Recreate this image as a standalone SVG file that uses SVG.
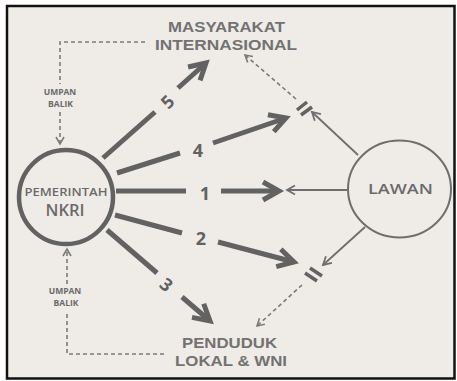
<svg xmlns="http://www.w3.org/2000/svg" width="457" height="381" viewBox="0 0 457 381">
  <style>
    .frame { fill: #efece7; stroke: #111; stroke-width: 2.5; }
    .thick { fill: none; stroke: #626262; stroke-width: 5; stroke-linecap: butt; }
    .thin { fill: none; stroke: #6e6e6e; stroke-width: 1.8; }
    .dash { fill: none; stroke: #7a7a7a; stroke-width: 1.6; stroke-dasharray: 4 3; }
    .brk { fill: none; stroke: #626262; stroke-width: 3.5; }
    .lbl { font-family: "Open Sans", "Liberation Sans", sans-serif; font-weight: 600; fill: #6a6a6a; text-anchor: middle; }
    .big { font-family: "Liberation Sans", Arial, sans-serif; font-weight: 700; fill: #727272; text-anchor: middle; font-size: 15.5px; }
    .num { font-family: "Open Sans", "Liberation Sans", sans-serif; font-weight: 700; fill: #626262; text-anchor: middle; font-size: 18px; }
    .small { font-family: "Open Sans", "Liberation Sans", sans-serif; font-weight: 700; fill: #6a6a6a; text-anchor: middle; font-size: 8.5px; }
  </style>
  <defs>
    <marker id="mThick" viewBox="-22 -14 30 28" markerWidth="30" markerHeight="28" refX="0" refY="0" orient="auto" markerUnits="userSpaceOnUse" overflow="visible">
      <path d="M-16,-9 L0,0 L-16,9" fill="none" stroke="#626262" stroke-width="5" stroke-linejoin="miter"/>
    </marker>
    <marker id="mThin" viewBox="-12 -8 16 16" markerWidth="16" markerHeight="16" refX="0" refY="0" orient="auto" markerUnits="userSpaceOnUse" overflow="visible">
      <path d="M-8,-4.5 L0,0 L-8,4.5" fill="none" stroke="#6e6e6e" stroke-width="1.8"/>
    </marker>
    <marker id="mDash" viewBox="-12 -8 16 16" markerWidth="16" markerHeight="16" refX="0" refY="0" orient="auto" markerUnits="userSpaceOnUse" overflow="visible">
      <path d="M-7,-4 L0,0 L-7,4" fill="none" stroke="#7a7a7a" stroke-width="1.6"/>
    </marker>
  </defs>

  <rect x="0" y="0" width="457" height="381" fill="#ffffff"/>
  <rect class="frame" x="7" y="6" width="447.5" height="372.5"/>

  <g id="connectors">
    <!-- line 5 -->
    <path class="thick" d="M103,158 L155,112"/>
    <path class="thick" d="M178,88 L206,63" marker-end="url(#mThick)"/>
    <!-- line 4 -->
    <path class="thick" d="M117,173 L180,153"/>
    <path class="thick" d="M213,143 L286,118" marker-end="url(#mThick)"/>
    <!-- line 1 -->
    <path class="thick" d="M116,191 L186,191"/>
    <path class="thick" d="M221,191 L279,191" marker-end="url(#mThick)"/>
    <!-- line 2 -->
    <path class="thick" d="M115,215 L182,233"/>
    <path class="thick" d="M218,242 L294,262" marker-end="url(#mThick)"/>
    <!-- line 3 -->
    <path class="thick" d="M107,230 L157,273"/>
    <path class="thick" d="M182,297 L210,321" marker-end="url(#mThick)"/>

    <!-- from LAWAN -->
    <path class="thin" d="M358,155 L312,112" marker-end="url(#mThin)"/>
    <path class="thin" d="M347,190 L287,190" marker-end="url(#mThin)"/>
    <path class="thin" d="M365,227 L323,265" marker-end="url(#mThin)"/>

    <!-- break marks -->
    <path class="brk" d="M297,110 L307,102 M301,115 L312,107"/>
    <path class="brk" d="M310,268 L322,276 M305,273 L317,281"/>

    <!-- dashed to targets -->
    <path class="dash" d="M296,99 L245,55" marker-end="url(#mDash)"/>
    <path class="dash" d="M302,285 L257,326" marker-end="url(#mDash)"/>

    <!-- umpan balik loops -->
    <path class="dash" d="M145,42 H60 V84"/>
    <path class="dash" d="M60,112 V144" marker-end="url(#mDash)"/>
    <path class="dash" d="M67,284 V249" marker-end="url(#mDash)"/>
    <path class="dash" d="M67,314 V354 H166"/>
  </g>

  <g id="numbers">
    <text class="num" x="205" y="200">1</text>
    <text class="num" x="201" y="245">2</text>
    <text class="num" transform="translate(166,285) rotate(40)" x="0" y="6">3</text>
    <text class="num" x="198" y="157">4</text>
    <text class="num" transform="translate(168,102) rotate(-45)" x="0" y="6">5</text>
  </g>

  <g id="pemerintah">
    <circle cx="66" cy="197" r="47" fill="none" stroke="#626262" stroke-width="4.5"/>
    <text class="lbl" font-weight="700"><tspan x="66" y="196" font-size="10.5" textLength="83" lengthAdjust="spacingAndGlyphs">PEMERINTAH</tspan><tspan x="65" y="216" font-size="16.5">NKRI</tspan></text>
  </g>

  <g id="lawan">
    <ellipse cx="399.5" cy="189" rx="51.5" ry="48.5" fill="none" stroke="#6e6e6e" stroke-width="2"/>
    <text class="lbl" x="400.5" y="193.5" font-size="15" textLength="65" lengthAdjust="spacingAndGlyphs">LAWAN</text>
  </g>

  <g id="masyarakat">
    <text class="big"><tspan x="226.5" y="31.5" textLength="117" lengthAdjust="spacingAndGlyphs">MASYARAKAT</tspan><tspan x="226" y="50" textLength="142" lengthAdjust="spacingAndGlyphs">INTERNASIONAL</tspan></text>
  </g>

  <g id="penduduk">
    <text class="big"><tspan x="229.5" y="347.5" textLength="95" lengthAdjust="spacingAndGlyphs">PENDUDUK</tspan><tspan x="231" y="366" textLength="112" lengthAdjust="spacingAndGlyphs">LOKAL &amp; WNI</tspan></text>
  </g>

  <g id="umpan-balik-atas">
    <text class="small"><tspan x="60" y="95">UMPAN</tspan><tspan x="60.5" y="106.5">BALIK</tspan></text>
  </g>

  <g id="umpan-balik-bawah">
    <text class="small"><tspan x="65" y="294">UMPAN</tspan><tspan x="66" y="305.5">BALIK</tspan></text>
  </g>
</svg>
